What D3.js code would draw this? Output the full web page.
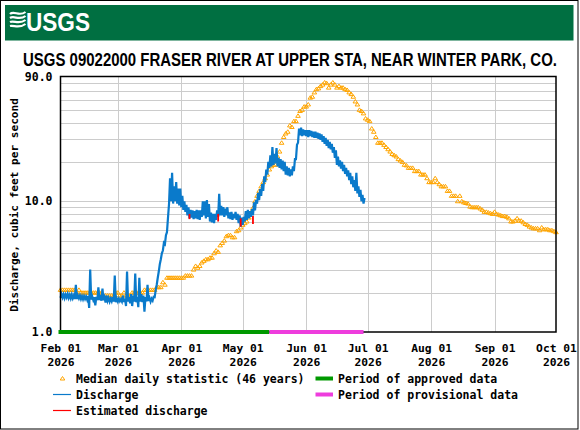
<!DOCTYPE html>
<html>
<head>
<meta charset="utf-8">
<script src="https://cdn.jsdelivr.net/npm/d3@7"></script>
<style>
  body { margin: 0; background: #fff; }
  text { font-family: "DejaVu Sans Mono", "Liberation Mono", monospace; font-weight: bold; }
</style>
</head>
<body>
<svg id="chart" width="580" height="430"></svg>
<script>
// daily median statistic, Feb 01 -> Oct 01 2026
const medianValues = [
  2.1, 2.1, 2.1, 2.1, 2.1, 2.1, 2.1, 2.1, 2.0, 2.1,
  2.0, 2.0, 2.0, 2.0, 2.0, 2.0, 2.0, 2.0, 2.0, 2.0,
  2.0, 1.9, 1.9, 1.9, 1.9, 1.9, 1.9, 2.0, 2.0, 1.9,
  1.9, 2.0, 1.9, 1.9, 1.9, 2.0, 2.0, 2.0, 2.0, 2.0,
  2.0, 2.1, 2.1, 2.1, 2.1, 2.1, 2.1, 2.2, 2.2, 2.2,
  2.4, 2.3, 2.6, 2.6, 2.6, 2.6, 2.6, 2.6, 2.6, 2.6,
  2.6, 2.7, 2.7, 2.7, 2.7, 3.0, 3.2, 3.1, 3.2, 3.4,
  3.5, 3.6, 3.6, 3.7, 3.7, 4.0, 4.2, 4.1, 4.6, 4.8,
  5.0, 5.4, 5.5, 5.5, 5.3, 5.3, 5.9, 6.0, 6.3, 6.6,
  6.8, 7.0, 7.5, 8.2, 8.9, 10, 11, 12, 13, 14,
  15, 16, 17.5, 18.5, 19, 19, 22, 24, 28, 31,
  33, 34, 38, 37, 41, 41, 45, 49, 50, 53,
  53, 55, 62, 63, 68, 72, 73, 76, 78, 81,
  80, 74, 78, 81, 78, 74, 76, 74, 74, 72,
  71, 68, 66, 63, 58, 55, 50, 49, 47, 43,
  42, 41, 36, 34, 31, 28, 28, 28, 27, 26,
  25, 24, 23, 22.5, 22, 21, 20.5, 20, 19, 18.8,
  18, 18, 18, 17, 17, 17, 16, 16, 16, 15,
  14, 14, 14, 15, 14, 13.5, 13, 13, 13, 12,
  12, 11, 11, 11, 10, 11, 10, 9.8, 9.7, 9.6,
  9.1, 9.0, 9.0, 9.0, 9.0, 8.8, 8.6, 8.3, 8.3, 8.2,
  8.1, 8.0, 8.3, 8.0, 7.9, 7.8, 7.7, 7.7, 7.6, 7.4,
  7.0, 7.0, 7.1, 7.4, 7.1, 7.1, 6.9, 6.7, 6.6, 6.4,
  6.3, 6.2, 6.2, 6.2, 6.0, 6.3, 6.1, 6.1, 6.1, 6.0,
  6.0, 5.9, 5.8
];

// daily low / high of the 15-minute discharge, Feb 01 -> Jun 28
const dischargeLow = [
  1.83, 1.84, 1.82, 1.84, 1.82, 1.81, 1.81, 1.79, 1.79, 1.81,
  1.79, 1.78, 1.79, 1.77, 1.53, 1.77, 1.76, 1.60, 1.75, 1.76,
  1.74, 1.75, 1.68, 1.73, 1.71, 1.72, 1.71, 1.69, 1.71, 1.72,
  1.71, 1.70, 1.58, 1.71, 1.66, 1.58, 1.71, 1.69, 1.55, 1.71,
  1.69, 1.43, 1.71, 1.73, 1.71, 1.74, 1.85, 2.3, 2.9, 3.6,
  4.2, 4.7, 5.8, 9.5, 10, 9.6, 10, 9.6, 9.3, 9.0,
  8.6, 8.3, 7.8, 7.4, 7.5, 7.3, 7.4, 7.3, 7.2, 7.6,
  7.8, 7.4, 7.6, 7.0, 6.9, 6.8, 7.2, 7.6, 7.8, 7.8,
  7.6, 7.8, 7.4, 7.3, 7.2, 7.4, 7.2, 6.8, 6.4, 6.6,
  7.0, 7.2, 7.4, 7.6, 7.8, 8.5, 9.6, 10.2, 11, 12,
  14, 16, 18, 18.5, 19, 19.5, 18.5, 18, 17.5, 17,
  16, 15.8, 15.5, 15.8, 17, 21, 28, 32, 31.5, 32,
  31.5, 31, 31.5, 31, 30.5, 30.5, 30, 29.5, 28.5, 27.5,
  26.5, 25.5, 25, 23.5, 21.5, 19, 18.5, 17.8, 17, 16.2,
  15.5, 14.5, 13.5, 12.8, 12, 11.5, 10.8, 10, 9.6
];
const dischargeHigh = [
  1.95, 1.94, 1.93, 1.95, 1.92, 1.93, 1.90, 2.30, 1.90, 1.90,
  1.88, 1.88, 1.87, 1.88, 3.00, 1.87, 1.85, 1.86, 2.20, 1.84,
  2.15, 1.84, 1.90, 1.82, 1.80, 1.85, 2.70, 1.80, 1.80, 1.78,
  1.90, 1.80, 2.90, 1.85, 1.95, 1.90, 2.80, 1.85, 2.60, 1.95,
  1.90, 1.85, 2.30, 1.82, 1.80, 1.86, 2.1, 2.6, 3.3, 4.0,
  4.8, 5.5, 7.5, 15, 16.5, 13, 14, 12.5, 12.5, 11,
  10, 9.4, 9.0, 8.6, 8.5, 8.4, 8.6, 8.5, 8.5, 10,
  10, 10.2, 9.5, 8.2, 8.0, 8.0, 8.5, 11.4, 9.2, 9.0,
  8.8, 9.0, 8.2, 8.3, 8.0, 8.3, 8.0, 7.8, 7.5, 7.6,
  8.4, 8.6, 8.4, 8.7, 9.8, 10.2, 11.6, 12.4, 13.5, 15.5,
  17.5, 20, 22.5, 26, 23, 25.5, 21.5, 21, 20.5, 20,
  18.5, 18, 17.5, 18.5, 21, 27, 36, 36.5, 35.5, 35,
  35, 35, 34.5, 34, 34, 33.5, 33, 32.5, 31.5, 30.5,
  29.5, 28.5, 27.5, 26, 24.5, 22, 20.5, 20, 19, 18,
  17.2, 16.5, 15.5, 14.5, 16.5, 13, 12.2, 11.2, 10.6
];

// estimated discharge: date, low, high
const estimatedDates = ["2026-04-05", "2026-04-19", "2026-04-30", "2026-05-06"];
const estimatedLow = [7.3, 7.0, 6.4, 6.7];
const estimatedHigh = [8.0, 8.0, 7.4, 7.7];

const approvedPeriod = ["2026-02-01", "2026-05-14"];
const provisionalPeriod = ["2026-05-14", "2026-06-29"];

const monthTicks = ["2026-02-01", "2026-03-01", "2026-04-01", "2026-05-01", "2026-06-01",
  "2026-07-01", "2026-08-01", "2026-09-01", "2026-10-01"];
const yTicks = [1, 10, 90];
const yGrid = [2, 3, 4, 5, 6, 7, 8, 9, 10, 20, 30, 40, 50, 60, 70, 80];

const title = "USGS 09022000 FRASER RIVER AT UPPER STA, NEAR WINTER PARK, CO.";

const startApp = () => {
  const svg = d3.select('#chart');
  const left = 60.5, right = 556, top = 76.5, bottom = 332;
  const parse = d3.utcParse('%Y-%m-%d');
  const start = parse('2026-02-01');

  const x = d3.scaleUtc().domain([start, parse('2026-10-01')]).range([left, right]);
  const y = d3.scaleLog().domain([1, 90]).range([bottom, top]);

  // frame + header
  svg.append('rect').attr('x', 0.5).attr('y', 0.5).attr('width', 577.5).attr('height', 428.5)
    .attr('fill', '#fff').attr('stroke', '#000').attr('stroke-width', 1);
  svg.append('rect').attr('x', 5).attr('y', 5).attr('width', 568.5).attr('height', 35.5)
    .attr('fill', '#006f41');

  const logo = svg.append('g').attr('class', 'logo');
  [14, 18, 22, 26].forEach((yy, i) => {
    logo.append('path')
      .attr('d', `M10,${yy} C14,${yy - 4 + i} 19,${yy + 3} 25.5,${yy - 2}`)
      .attr('fill', 'none').attr('stroke', '#fff').attr('stroke-width', 2.2);
  });
  const logoText = logo.append('text')
    .style('font-family', '"Liberation Sans Narrow", "Liberation Sans", Arial, sans-serif')
    .style('font-size', '25px').attr('fill', '#fff').text('USGS');
  const lw = logoText.node().getComputedTextLength();
  logoText.attr('transform', `translate(26,31) scale(${64 / lw},1)`);

  // title, squeezed to the width of the reference
  const titleText = svg.append('text').attr('text-anchor', 'middle')
    .style('font-family', '"Liberation Sans Narrow", "Liberation Sans", Arial, sans-serif')
    .style('font-size', '18px').text(title);
  const tw = titleText.node().getComputedTextLength();
  titleText.attr('transform', `translate(290,66) scale(${534 / tw},1)`);

  // grid
  const grid = svg.append('g').attr('stroke', '#cccccc').attr('stroke-width', 1);
  grid.selectAll('line.h').data(yGrid).enter().append('line')
    .attr('x1', left).attr('x2', right)
    .attr('y1', d => Math.round(y(d)) + 0.5).attr('y2', d => Math.round(y(d)) + 0.5);
  grid.selectAll('line.v').data(monthTicks.slice(1, -1)).enter().append('line')
    .attr('y1', top).attr('y2', bottom)
    .attr('x1', d => Math.round(x(parse(d))) + 0.5).attr('x2', d => Math.round(x(parse(d))) + 0.5);

  // median markers
  const tri = 'M0,-2L2.3,1.5L-2.3,1.5Z';
  svg.append('g').selectAll('path').data(medianValues).enter().append('path')
    .attr('d', tri)
    .attr('transform', (d, i) => `translate(${x(d3.utcDay.offset(start, i))},${y(d)})`)
    .attr('fill', 'none').attr('stroke', '#ffa500').attr('stroke-width', 1);

  // discharge zigzag between daily low and high
  const pts = [];
  dischargeLow.forEach((lo, i) => {
    const t = d3.utcDay.offset(start, i);
    pts.push({ t, v: lo });
    pts.push({ t: d3.utcHour.offset(t, 12), v: dischargeHigh[i] });
  });
  const line = d3.line().x(d => x(d.t)).y(d => y(d.v));
  svg.append('path').datum(pts).attr('d', line)
    .attr('fill', 'none').attr('stroke', '#0a7acb').attr('stroke-width', 2.2);

  svg.append('g').selectAll('line').data(estimatedDates).enter().append('line')
    .attr('x1', d => x(parse(d))).attr('x2', d => x(parse(d)))
    .attr('y1', (d, i) => y(estimatedLow[i])).attr('y2', (d, i) => y(estimatedHigh[i]))
    .attr('stroke', '#ff0000').attr('stroke-width', 1.8);

  // plot box
  svg.append('rect').attr('x', left).attr('y', top).attr('width', right - left).attr('height', bottom - top)
    .attr('fill', 'none').attr('stroke', '#000').attr('stroke-width', 1.5);

  // approval periods
  svg.append('line').attr('x1', x(parse(approvedPeriod[0])) - 2).attr('x2', x(parse(approvedPeriod[1])))
    .attr('y1', bottom).attr('y2', bottom).attr('stroke', '#009900').attr('stroke-width', 4);
  svg.append('line').attr('x1', x(parse(provisionalPeriod[0]))).attr('x2', x(parse(provisionalPeriod[1])))
    .attr('y1', bottom).attr('y2', bottom).attr('stroke', '#ee3ddd').attr('stroke-width', 4);

  // axes
  const yAxis = svg.append('g').attr('transform', `translate(${left},0)`)
    .call(d3.axisLeft(y).tickValues(yTicks).tickFormat(d3.format('.1f')).tickSize(0).tickPadding(8));
  yAxis.select('.domain').remove();
  yAxis.selectAll('text').style('font-size', '11.5px').attr('fill', '#000')
    .style('font-family', '"DejaVu Sans Mono", monospace').style('font-weight', 'bold');

  const fmt = d3.utcFormat('%b %d');
  const xAxis = svg.append('g').attr('transform', `translate(0,${bottom})`)
    .call(d3.axisBottom(x).tickValues(monthTicks.map(parse)).tickSize(0).tickFormat(''));
  xAxis.select('.domain').remove();
  xAxis.selectAll('.tick').each(function (d) {
    const t = d3.select(this).append('text').attr('fill', '#000').attr('text-anchor', 'middle')
      .style('font-size', '11.3px');
    t.append('tspan').attr('x', 0).attr('y', 20).text(fmt(d));
    t.append('tspan').attr('x', 0).attr('y', 34).text(d3.utcFormat('%Y')(d));
  });

  svg.append('text').attr('transform', 'translate(17.5,205) rotate(-90)')
    .attr('text-anchor', 'middle').style('font-size', '11.1px')
    .text('Discharge, cubic feet per second');

  // legend
  const lg = svg.append('g').style('font-size', '11.5px');
  lg.append('path').attr('d', tri).attr('transform', 'translate(62.5,378.5)')
    .attr('fill', 'none').attr('stroke', '#ffa500');
  lg.append('text').attr('x', 76).attr('y', 383).text('Median daily statistic (46 years)');
  lg.append('line').attr('x1', 53).attr('x2', 71).attr('y1', 394.5).attr('y2', 394.5)
    .attr('stroke', '#0a7acb').attr('stroke-width', 1.2);
  lg.append('text').attr('x', 76).attr('y', 399).text('Discharge');
  lg.append('line').attr('x1', 53).attr('x2', 71).attr('y1', 410.5).attr('y2', 410.5)
    .attr('stroke', '#ff0000').attr('stroke-width', 1.2);
  lg.append('text').attr('x', 76).attr('y', 415).text('Estimated discharge');
  lg.append('line').attr('x1', 315.5).attr('x2', 333).attr('y1', 378.5).attr('y2', 378.5)
    .attr('stroke', '#009900').attr('stroke-width', 4);
  lg.append('text').attr('x', 338).attr('y', 383).text('Period of approved data');
  lg.append('line').attr('x1', 315.5).attr('x2', 333).attr('y1', 394.5).attr('y2', 394.5)
    .attr('stroke', '#ee3ddd').attr('stroke-width', 4);
  lg.append('text').attr('x', 338).attr('y', 399).text('Period of provisional data');
};

window.onload = startApp;
</script>
</body>
</html>
